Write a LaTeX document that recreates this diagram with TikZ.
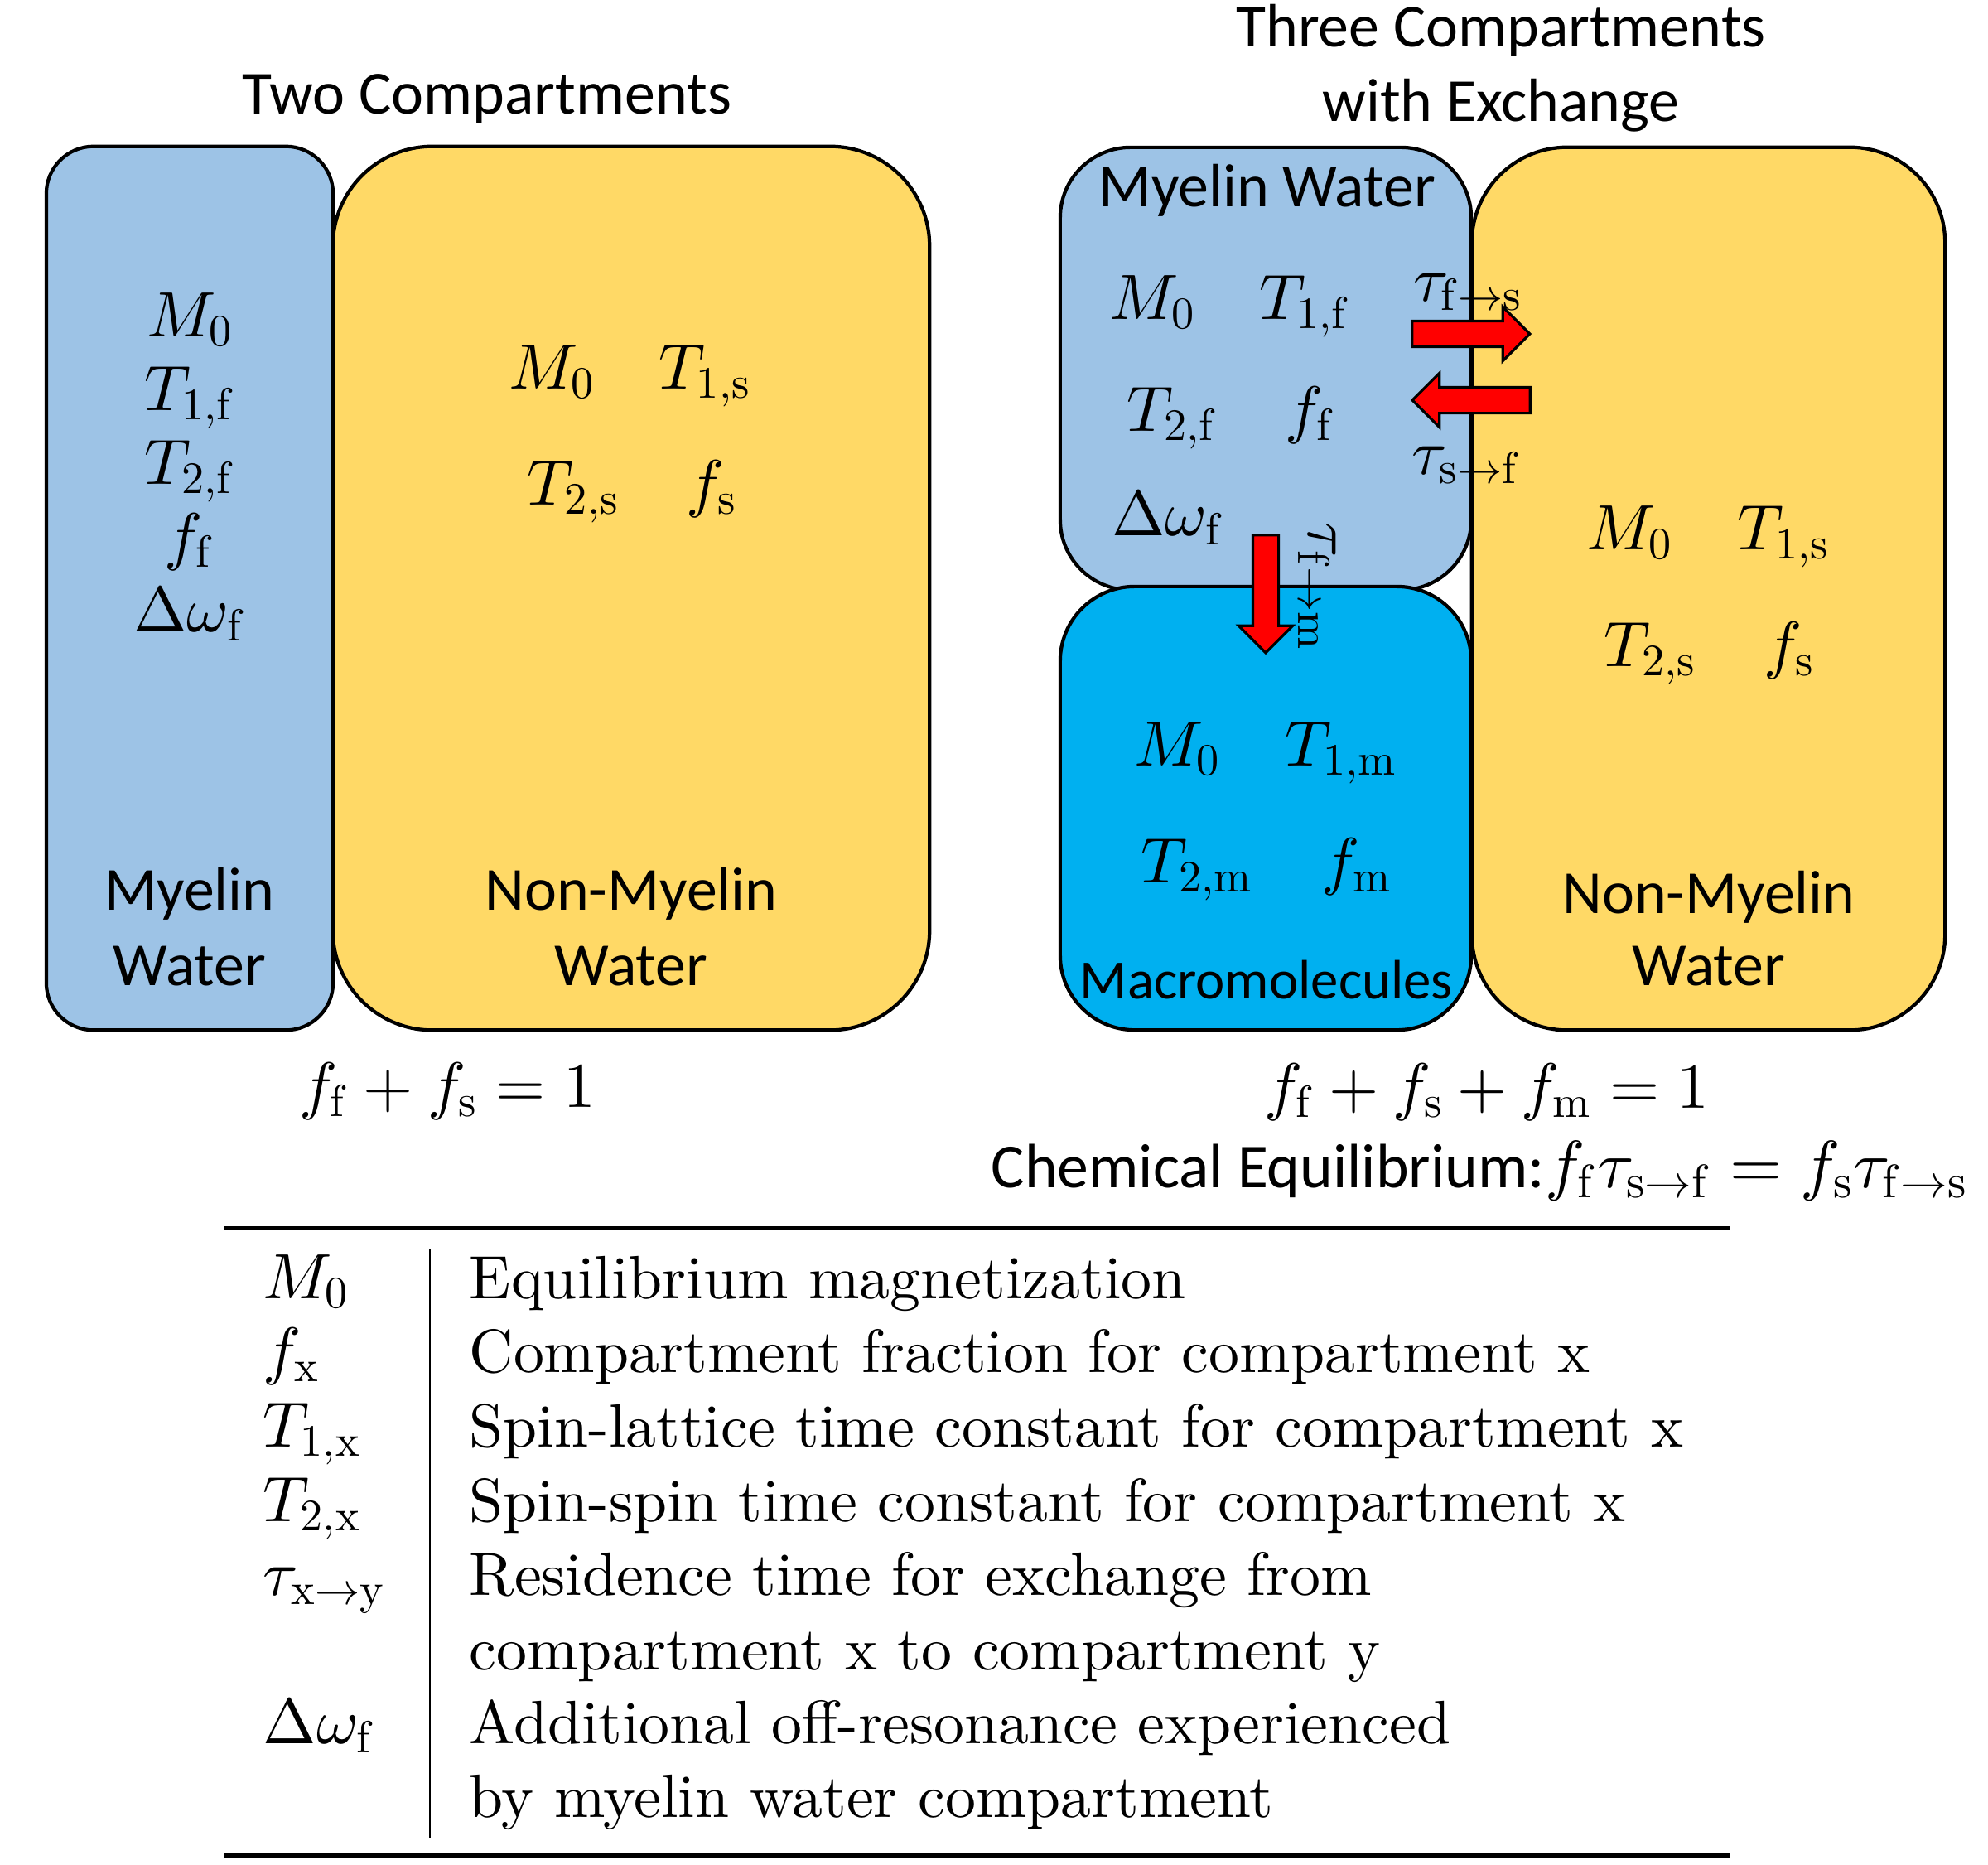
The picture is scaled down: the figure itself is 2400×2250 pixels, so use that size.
\documentclass[tikz,border=0pt]{standalone}
\usepackage[no-math]{fontspec}
\newfontfamily\calib{Carlito}
\newfontfamily\tabrm{lmroman10-regular.otf}
\DeclareFontFamily{OML}{cmm}{\skewchar\font127}
\DeclareFontShape{OML}{cmm}{m}{it}{<->cmmi10}{}
\DeclareFontFamily{OT1}{cmr}{\hyphenchar\font45}
\DeclareFontShape{OT1}{cmr}{m}{n}{<->cmr10}{}
\DeclareFontFamily{OMS}{cmsy}{\skewchar\font48}
\DeclareFontShape{OMS}{cmsy}{m}{n}{<->cmsy10}{}
\usetikzlibrary{shapes.arrows}
\definecolor{mblue}{HTML}{9DC3E6}
\definecolor{myell}{HTML}{FFD966}
\definecolor{mcyan}{HTML}{00B0F0}
\begin{document}
\begin{tikzpicture}[x=0.01cm, y=-0.01cm,
  every node/.style={font=\fontsize{22}{26}\selectfont, inner sep=0pt},
  lbl/.style={anchor=base, font=\calib\fontsize{21}{25}\selectfont},
  mth/.style={anchor=base},
  cbox/.style={draw, line width=1.2pt, rectangle},
  fatarrow/.style={single arrow, draw, line width=0.9pt, fill=red,
    minimum height=1.42cm, inner xsep=0pt, inner ysep=0.14cm,
    single arrow head extend=0.17cm, single arrow head indent=0pt},
  tabl/.style={anchor=base west},
  tabr/.style={anchor=base west, font=\tabrm\fontsize{21}{25}\selectfont}]
\useasboundingbox (0,0) rectangle (2400,2250);

% ---------- Two compartments ----------
\node[lbl] (t2) at (588,137) {Two Compartments};
\node[cbox, fill=mblue, minimum width=3.46cm, minimum height=10.66cm, rounded corners=0.57cm] (lb) at (229,710) {};
\node[cbox, fill=myell, minimum width=7.20cm, minimum height=10.66cm, rounded corners=1.2cm] (ly) at (762,710) {};
\node[mth] (lbM) at (229,406) {$M_0$};
\node[mth] (lbT1) at (229,495) {$T_{1,\mathrm{f}}$};
\node[mth] (lbT2) at (229,584) {$T_{2,\mathrm{f}}$};
\node[mth] (lbf) at (229,673) {$f_\mathrm{f}$};
\node[mth] (lbd) at (229,762) {$\Delta\omega_\mathrm{f}$};
\node[lbl] (lbn1) at (229,1098) {Myelin};
\node[lbl] (lbn2) at (229,1189) {Water};
\node[mth] (lyM) at (666,469) {$M_0$};
\node[mth] (lyT1) at (851,469) {$T_{1,\mathrm{s}}$};
\node[mth] (lyT2) at (692,609) {$T_{2,\mathrm{s}}$};
\node[mth] (lyf) at (859,609) {$f_\mathrm{s}$};
\node[lbl] (lyn1) at (762,1098) {Non-Myelin};
\node[lbl] (lyn2) at (762,1189) {Water};
\node[mth] (sum2) at (540,1336) {$f_\mathrm{f}+f_\mathrm{s}=1$};

% ---------- Three compartments ----------
\node[lbl] (t3a) at (1812,56) {Three Compartments};
\node[lbl] (t3b) at (1812,146) {with Exchange};
\node[cbox, fill=myell, minimum width=5.71cm, minimum height=10.65cm, rounded corners=1.15cm] (ry) at (2062.5,710.5) {};
\node[cbox, fill=mblue, minimum width=4.96cm, minimum height=5.34cm, rounded corners=0.85cm] (rb) at (1528,445) {};
\node[cbox, fill=mcyan, minimum width=4.96cm, minimum height=5.35cm, rounded corners=0.9cm] (rm) at (1528,975.5) {};

\node[lbl] (rbn) at (1530,249) {Myelin Water};
\node[mth] (rbM) at (1391,385) {$M_0$};
\node[mth] (rbT1) at (1575,385) {$T_{1,\mathrm{f}}$};
\node[mth] (rbT2) at (1415,520) {$T_{2,\mathrm{f}}$};
\node[mth] (rbf) at (1582,520) {$f_\mathrm{f}$};
\node[mth] (rbd) at (1410,646) {$\Delta\omega_\mathrm{f}$};

\node[mth] (rmM) at (1421,924) {$M_0$};
\node[mth] (rmT1) at (1619,924) {$T_{1,\mathrm{m}}$};
\node[mth] (rmT2) at (1445,1065) {$T_{2,\mathrm{m}}$};
\node[mth] (rmf) at (1638,1065) {$f_\mathrm{m}$};
\node[lbl, font=\calib\fontsize{19}{23}\selectfont] (rmn) at (1529,1205) {Macromolecules};

\node[mth] (ryM) at (1967,663) {$M_0$};
\node[mth] (ryT1) at (2153,663) {$T_{1,\mathrm{s}}$};
\node[mth] (ryT2) at (1992,804) {$T_{2,\mathrm{s}}$};
\node[mth] (ryf) at (2160,804) {$f_\mathrm{s}$};
\node[lbl] (ryn1) at (2063,1102) {Non-Myelin};
\node[lbl] (ryn2) at (2063,1189) {Water};

% exchange arrows
\node[fatarrow] (afs) at (1768,403) {};
\node[fatarrow, rotate=180] (asf) at (1784,483) {};
\node[fatarrow, rotate=-90] (afm) at (1528,709) {};
\node[mth] (tfs) at (1772,363) {$\tau_{\mathrm{f}\to\mathrm{s}}$};
\node[mth] (tsf) at (1770,572) {$\tau_{\mathrm{s}\to\mathrm{f}}$};
\node[anchor=center, rotate=-90] (tfm) at (1590,708) {$\tau_{\mathrm{f}\to\mathrm{m}}$};

\node[mth] (sum3) at (1795,1337) {$f_\mathrm{f}+f_\mathrm{s}+f_\mathrm{m}=1$};
\node[anchor=base west, font=\calib\fontsize{21.5}{25}\selectfont] (chem) at (1196,1433)
  {Chemical Equilibrium:{\fontsize{23}{27}\selectfont$f_\mathrm{f}\tau_{\mathrm{s}\to\mathrm{f}}=f_\mathrm{s}\tau_{\mathrm{f}\to\mathrm{s}}$}};

% ---------- Table ----------
\coordinate (rt1) at (271,1482);
\coordinate (rt2) at (2089,1482);
\coordinate (rb1) at (271,2239);
\coordinate (rb2) at (2089,2239);
\coordinate (vl1) at (519,1508);
\coordinate (vl2) at (519,2219);
\draw[line width=1.4pt] (rt1) -- (rt2);
\draw[line width=1.4pt] (rb1) -- (rb2);
\draw[line width=0.6pt] (vl1) -- (vl2);

\node[tabl] (k1) at (317,1567) {$M_0$};
\node[tabl] (k2) at (317,1656) {$f_\mathrm{x}$};
\node[tabl] (k3) at (317,1746) {$T_{1,\mathrm{x}}$};
\node[tabl] (k4) at (317,1836) {$T_{2,\mathrm{x}}$};
\node[tabl] (k5) at (317,1925) {$\tau_{\mathrm{x}\to\mathrm{y}}$};
\node[tabl] (k7) at (317,2104) {$\Delta\omega_\mathrm{f}$};

\node[tabr] (d1) at (566,1567) {Equilibrium magnetization};
\node[tabr] (d2) at (566,1656) {Compartment fraction for compartment x};
\node[tabr] (d3) at (566,1746) {Spin-lattice time constant for compartment x};
\node[tabr] (d4) at (566,1836) {Spin-spin time constant for compartment x};
\node[tabr] (d5) at (566,1925) {Residence time for exchange from};
\node[tabr] (d6) at (566,2015) {compartment x to compartment y};
\node[tabr] (d7) at (566,2104) {Additional off-resonance experienced};
\node[tabr] (d8) at (566,2193) {by myelin water compartment};
\end{tikzpicture}
\end{document}
